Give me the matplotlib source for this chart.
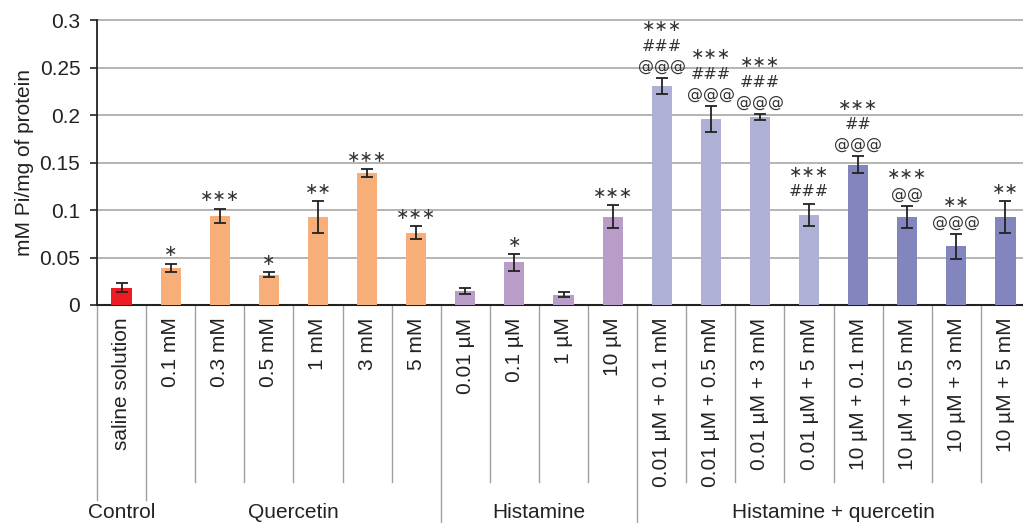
import matplotlib.pyplot as plt
from matplotlib.lines import Line2D

labels = ['saline solution',
          '0.1 mM', '0.3 mM', '0.5 mM', '1 mM', '3 mM', '5 mM',
          '0.01 µM', '0.1 µM', '1 µM', '10 µM',
          '0.01 µM + 0.1 mM', '0.01 µM + 0.5 mM', '0.01 µM + 3 mM', '0.01 µM + 5 mM',
          '10 µM + 0.1 mM', '10 µM + 0.5 mM', '10 µM + 3 mM', '10 µM + 5 mM']
values = [0.018,
          0.039, 0.094, 0.032, 0.093, 0.139, 0.076,
          0.015, 0.045, 0.011, 0.093,
          0.231, 0.196, 0.198, 0.095,
          0.148, 0.093, 0.062, 0.093]
errors = [0.0047,
          0.0046, 0.0077, 0.0025, 0.0169, 0.0042, 0.0069,
          0.0032, 0.0091, 0.0025, 0.0123,
          0.0083, 0.0134, 0.0032, 0.012,
          0.0086, 0.0113, 0.013, 0.017]
marks = ['',
         '*', '***', '*', '**', '***', '***',
         '', '*', '', '***',
         '***\n###\n@@@', '***\n###\n@@@', '***\n###\n@@@', '***\n###',
         '***\n##\n@@@', '***\n@@', '**\n@@@', '**']
colors = ['#ED1C24'] + ['#F8AE79'] * 6 + ['#BA9CC8'] * 4 + ['#AEB0D6'] * 4 + ['#8386BE'] * 4

groups = ['Control', 'Quercetin', 'Histamine', 'Histamine + quercetin']
group_sizes = [1, 6, 4, 8]

plt.rcParams['font.family'] = ['Liberation Sans', 'DejaVu Sans']

fig = plt.figure(figsize=(10.23, 5.23), dpi=100)
ax = fig.add_axes([97 / 1023, 218 / 523, 933 / 1023, 284.5 / 523])

x = list(range(len(values)))
ax.bar(x, values, width=0.41, color=colors, zorder=3)
ax.errorbar(x, values, yerr=errors, fmt='none', ecolor='#222222',
            elinewidth=1.3, capsize=4.5, capthick=1.3, zorder=4)

for i, txt in enumerate(marks):
    if txt:
        # centred asterisk operator looks closer to the original stars
        ax.annotate(txt.replace('*', '\u2217'), (x[i], values[i] + errors[i]),
                    textcoords='offset points', xytext=(0, 3), ha='center', va='bottom',
                    fontsize=11.5, color='#333333', linespacing=1.4, family='DejaVu Sans')

ax.set_xlim(-0.5, len(values) - 0.5)
ax.set_ylim(0, 0.3)
ax.set_yticks([0, 0.05, 0.1, 0.15, 0.2, 0.25, 0.3])
ax.set_yticklabels(['0', '0.05', '0.1', '0.15', '0.2', '0.25', '0.3'], fontsize=15, color='#222222')
ax.yaxis.grid(True, color='#A8A8A8', linewidth=1.2, zorder=0)
for gl in ax.get_ygridlines():
    gl.set_clip_on(False)
ax.set_axisbelow(True)
ax.tick_params(axis='y', direction='out', length=5, width=1.2, color='#222222', pad=7)
ax.set_ylabel('mM Pi/mg of protein', fontsize=15, color='#222222', labelpad=4)

ax.set_xticks(x)
ax.set_xticklabels(labels, rotation=90, fontsize=15, color='#222222', va='top')
ax.tick_params(axis='x', length=0, pad=9)

for side in ['top', 'right']:
    ax.spines[side].set_visible(False)
ax.spines['left'].set_color('#222222')
ax.spines['left'].set_linewidth(1.3)
ax.spines['bottom'].set_color('#222222')
ax.spines['bottom'].set_linewidth(1.5)

# separators below the axis
trans = ax.get_xaxis_transform()
ax_h = 284.5
short = -(482 - 305) / ax_h
bounds = [-0.5]
for s in group_sizes:
    bounds.append(bounds[-1] + s)
for b in range(len(values) + 1):
    pos = b - 0.5
    if pos in bounds[:2]:
        y_end = -(500 - 305) / ax_h
    elif pos in bounds[2:-1]:
        y_end = -(523 - 305) / ax_h
    else:
        y_end = short
    ax.add_line(Line2D([pos, pos], [0, y_end], transform=trans, color='#A0A0A0',
                       linewidth=1.0, clip_on=False))

for k, g in enumerate(groups):
    center = (bounds[k] + bounds[k + 1]) / 2
    ax.text(center, -(512 - 305) / ax_h, g, transform=trans, ha='center', va='center',
            fontsize=15, color='#222222')

fig.savefig('out.png', dpi=100)
